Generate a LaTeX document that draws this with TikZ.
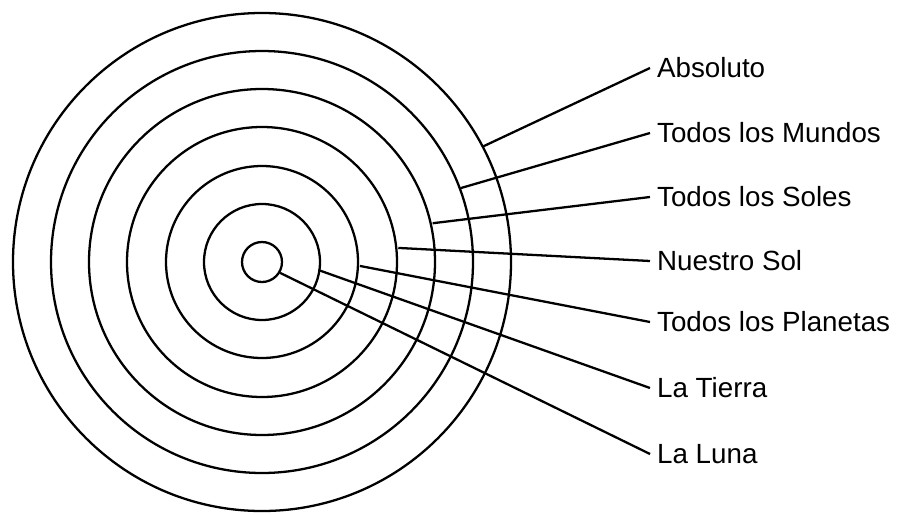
\documentclass[tikz,border=0pt]{standalone}
\usepackage{fontspec}
\setmainfont{Liberation Sans}
\begin{document}
\begin{tikzpicture}[x=0.02cm, y=0.02cm, line width=1.3pt,
    lbl/.style={anchor=west, inner xsep=0.12cm, inner ysep=0pt,
        font=\fontsize{15.8}{18}\selectfont, text height=11.3pt, text depth=0pt}]

    \useasboundingbox (-262,-252) rectangle (636,262);

    % rings
    \coordinate (O) at (0,0);
    \foreach \r in {20,58,96,135,173,211,249}
        \draw (O) circle[radius=\r];

    % labels
    \node[lbl] (abs) at (388,194) {Absoluto};
    \node[lbl] (mun) at (388,129) {Todos los Mundos};
    \node[lbl] (sls) at (388,65) {Todos los Soles};
    \node[lbl] (sol) at (388,1) {Nuestro Sol};
    \node[lbl] (pla) at (388,-60) {Todos los Planetas};
    \node[lbl] (tie) at (388,-126) {La Tierra};
    \node[lbl] (lun) at (388,-192) {La Luna};

    % leaders
    \coordinate (a) at (27.6:249);
    \coordinate (m) at (20.4:212);
    \coordinate (s) at (12.8:175);
    \coordinate (n) at (5.9:137);
    \coordinate (p) at (-2.3:98);
    \coordinate (t) at (-8.1:57);
    \coordinate (l) at (-31:21);

    \draw (a) -- (abs.west);
    \draw (m) -- (mun.west);
    \draw (s) -- (sls.west);
    \draw (n) -- (sol.west);
    \draw (p) -- (pla.west);
    \draw (t) -- (tie.west);
    \draw (l) -- (lun.west);

\end{tikzpicture}
\end{document}
